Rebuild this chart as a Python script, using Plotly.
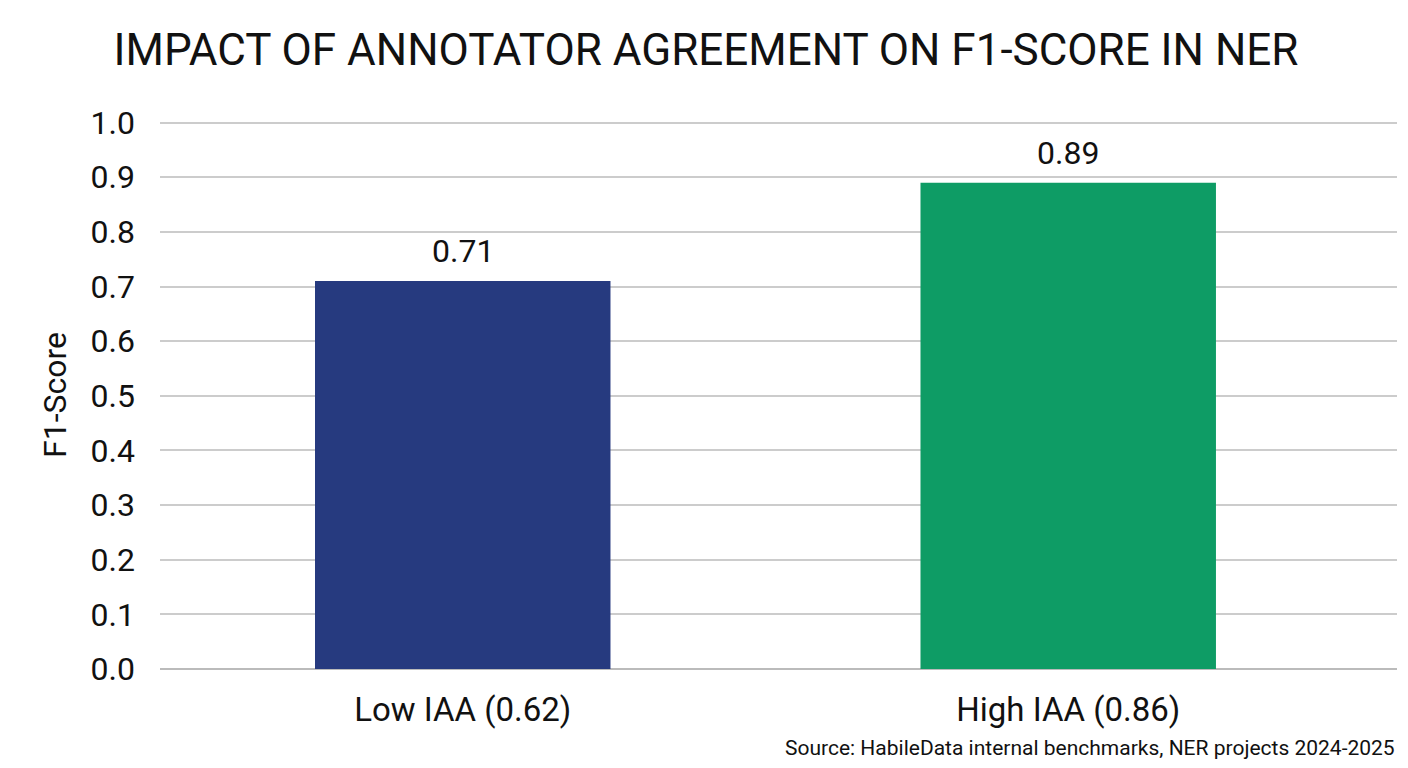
import plotly.graph_objects as go

categories = ['Low IAA (0.62)', 'High IAA (0.86)']
f1_scores = [0.71, 0.89]
bar_colors = ['#263A7F', '#0E9C65']
y_ticks = [0.0, 0.1, 0.2, 0.3, 0.4, 0.5, 0.6, 0.7, 0.8, 0.9, 1.0]

FONT = 'Roboto'

fig = go.Figure()
fig.add_trace(go.Bar(
    x=categories,
    y=f1_scores,
    marker=dict(color=bar_colors, line=dict(width=0)),
    width=0.488,
    hoverinfo='skip',
))

# value labels above the bars
for cat, val in zip(categories, f1_scores):
    fig.add_annotation(x=cat, y=val, text=f'{val:.2f}', showarrow=False,
                       yanchor='bottom', yshift=9,
                       font=dict(family=FONT, size=32, color='#111111'))

fig.add_annotation(xref='paper', yref='paper', x=1.0, y=-0.144,
                   xanchor='right', yanchor='middle', showarrow=False,
                   text='Source: HabileData internal benchmarks, NER projects 2024-2025',
                   font=dict(family=FONT, size=21, color='#111111'))

# page has an 8px body margin, so the figure is a bit smaller than the window
fig.update_layout(
    width=1392, height=752,
    margin=dict(l=152, r=3, t=113, b=91),
    paper_bgcolor='white', plot_bgcolor='white',
    showlegend=False,
    title=dict(text='IMPACT OF ANNOTATOR AGREEMENT ON F1-SCORE IN NER',
               x=698 / 1392, xref='container', xanchor='center',
               y=1 - 42 / 752, yref='container', yanchor='middle',
               font=dict(family=FONT, size=44, color='#111111')),
    font=dict(family=FONT, color='#111111'),
)

fig.update_xaxes(type='category', range=[-0.5, 1.543],
                 showgrid=False, showline=False, ticks='',
                 ticklabelstandoff=18,
                 tickfont=dict(family=FONT, size=33, color='#111111'))
fig.update_yaxes(range=[0, 1.003], tickvals=y_ticks,
                 ticktext=[f'{t:.1f}' for t in y_ticks],
                 showgrid=True, gridcolor='#CCCCCC', gridwidth=1.5,
                 zeroline=True, zerolinecolor='#BBBBBB', zerolinewidth=1.5,
                 showline=False, ticks='', ticklabelstandoff=24,
                 tickfont=dict(family=FONT, size=32, color='#111111'),
                 title=dict(text='F1-Score', standoff=14,
                            font=dict(family=FONT, size=32, color='#111111')))

fig.write_html('out.html')
